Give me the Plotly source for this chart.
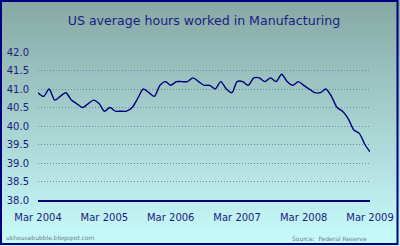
import struct, zlib, base64
import pandas as pd
import plotly.graph_objects as go

# ---- data ----
start_month = "2004-03-01"
hours = [
    40.9, 40.8, 41.0, 40.7, 40.8, 40.9, 40.7, 40.6, 40.5, 40.6,              # Mar-Dec 2004
    40.7, 40.6, 40.4, 40.5, 40.4, 40.4, 40.4, 40.5, 40.75, 41.0, 40.9, 40.8, # 2005
    41.1, 41.2, 41.1, 41.2, 41.2, 41.2, 41.3, 41.2, 41.1, 41.1, 41.0, 41.2,  # 2006
    41.0, 40.9, 41.2, 41.2, 41.1, 41.3, 41.3, 41.2, 41.3, 41.2, 41.4, 41.2,  # 2007
    41.1, 41.2, 41.1, 41.0, 40.9, 40.9, 41.0, 40.8, 40.5, 40.4, 40.2, 39.9,  # 2008
    39.8, 39.5, 39.3,                                                         # Jan-Mar 2009
]
tick_dates = ["2004-03-01", "2005-03-01", "2006-03-01", "2007-03-01", "2008-03-01", "2009-03-01"]
tick_labels = ["Mar 2004", "Mar 2005", "Mar 2006", "Mar 2007", "Mar 2008", "Mar 2009"]
y_ticks = [38.0, 38.5, 39.0, 39.5, 40.0, 40.5, 41.0, 41.5, 42.0]

months = pd.date_range(start_month, periods=len(hours), freq="MS")

W, H = 400, 246
L, R, T, B = 38, 30, 52, 46
PW, PH = W - L - R, H - T - B

def gradient_png(h, top, bottom):
    rows = b""
    for i in range(h):
        f = i / (h - 1)
        c = bytes(int(round(top[k] + (bottom[k] - top[k]) * f)) for k in range(3))
        rows += b"\x00" + c + c
    def chunk(tag, data):
        return (struct.pack(">I", len(data)) + tag + data
                + struct.pack(">I", zlib.crc32(tag + data) & 0xffffffff))
    png = (b"\x89PNG\r\n\x1a\n"
           + chunk(b"IHDR", struct.pack(">IIBBBBB", 2, h, 8, 2, 0, 0, 0))
           + chunk(b"IDAT", zlib.compress(rows))
           + chunk(b"IEND", b""))
    return "data:image/png;base64," + base64.b64encode(png).decode()

navy = "#00007a"
text_col = "#1c1c80"

fig = go.Figure()
fig.add_trace(go.Scatter(
    x=months, y=hours, mode="lines",
    line=dict(color=navy, width=1.4, shape="spline", smoothing=0.8),
    hoverinfo="skip", showlegend=False,
))

fig.update_layout(
    width=W, height=H,
    margin=dict(l=L, r=R, t=T, b=B, pad=0, autoexpand=False),
    paper_bgcolor="#a8d4d0",
    plot_bgcolor="rgba(0,0,0,0)",
    font=dict(family="DejaVu Sans", color=text_col),
    title=dict(text="US average hours worked in Manufacturing",
               x=0.5, xref="paper", xanchor="center",
               y=1 - 21 / H, yanchor="middle", automargin=False,
               font=dict(family="DejaVu Sans", size=12.6, color=text_col)),
    xaxis=dict(
        range=[months[0], months[-1]], automargin=False,
        tickvals=pd.to_datetime(tick_dates), ticktext=tick_labels,
        showgrid=False, zeroline=False,
        showline=True, linecolor=navy, linewidth=2,
        ticks="", ticklabelstandoff=7,
        tickfont=dict(size=10, color=text_col),
    ),
    yaxis=dict(
        range=[38, 42], tickvals=y_ticks, automargin=False,
        ticktext=[f"{v:.1f}" for v in y_ticks],
        showgrid=True, gridcolor="#6a8aa8", griddash="1px,2px", gridwidth=1,
        zeroline=False, showline=False, ticks="",
        ticklabelstandoff=8,
        tickfont=dict(size=10, color=text_col),
    ),
    images=[dict(
        source=gradient_png(H, (134, 168, 164), (200, 252, 252)),
        xref="paper", yref="paper",
        x=-L / PW, y=1 + T / PH, sizex=W / PW, sizey=H / PH,
        xanchor="left", yanchor="top", sizing="stretch", layer="below",
    )],
    shapes=[dict(
        type="rect", xref="paper", yref="paper",
        x0=(-L + 1) / PW, x1=(PW + R - 2.5) / PW,
        y0=(-B + 2) / PH, y1=(PH + T - 1) / PH,
        line=dict(color="#000080", width=2), fillcolor="rgba(0,0,0,0)",
        layer="above",
    )],
    annotations=[
        dict(text="ukhousebubble.blogspot.com", xref="paper", yref="paper",
             x=(-L + 4) / PW, y=(-B + 8) / PH, xanchor="left", yanchor="middle",
             showarrow=False, font=dict(size=6, color="#6a7a8a")),
        dict(text="Source:  Federal Reserve", xref="paper", yref="paper",
             x=(290 - L) / PW, y=(-B + 8) / PH, xanchor="left", yanchor="middle",
             showarrow=False, font=dict(size=6, color="#6a7a8a")),
    ],
)

fig.write_html("out.html")
